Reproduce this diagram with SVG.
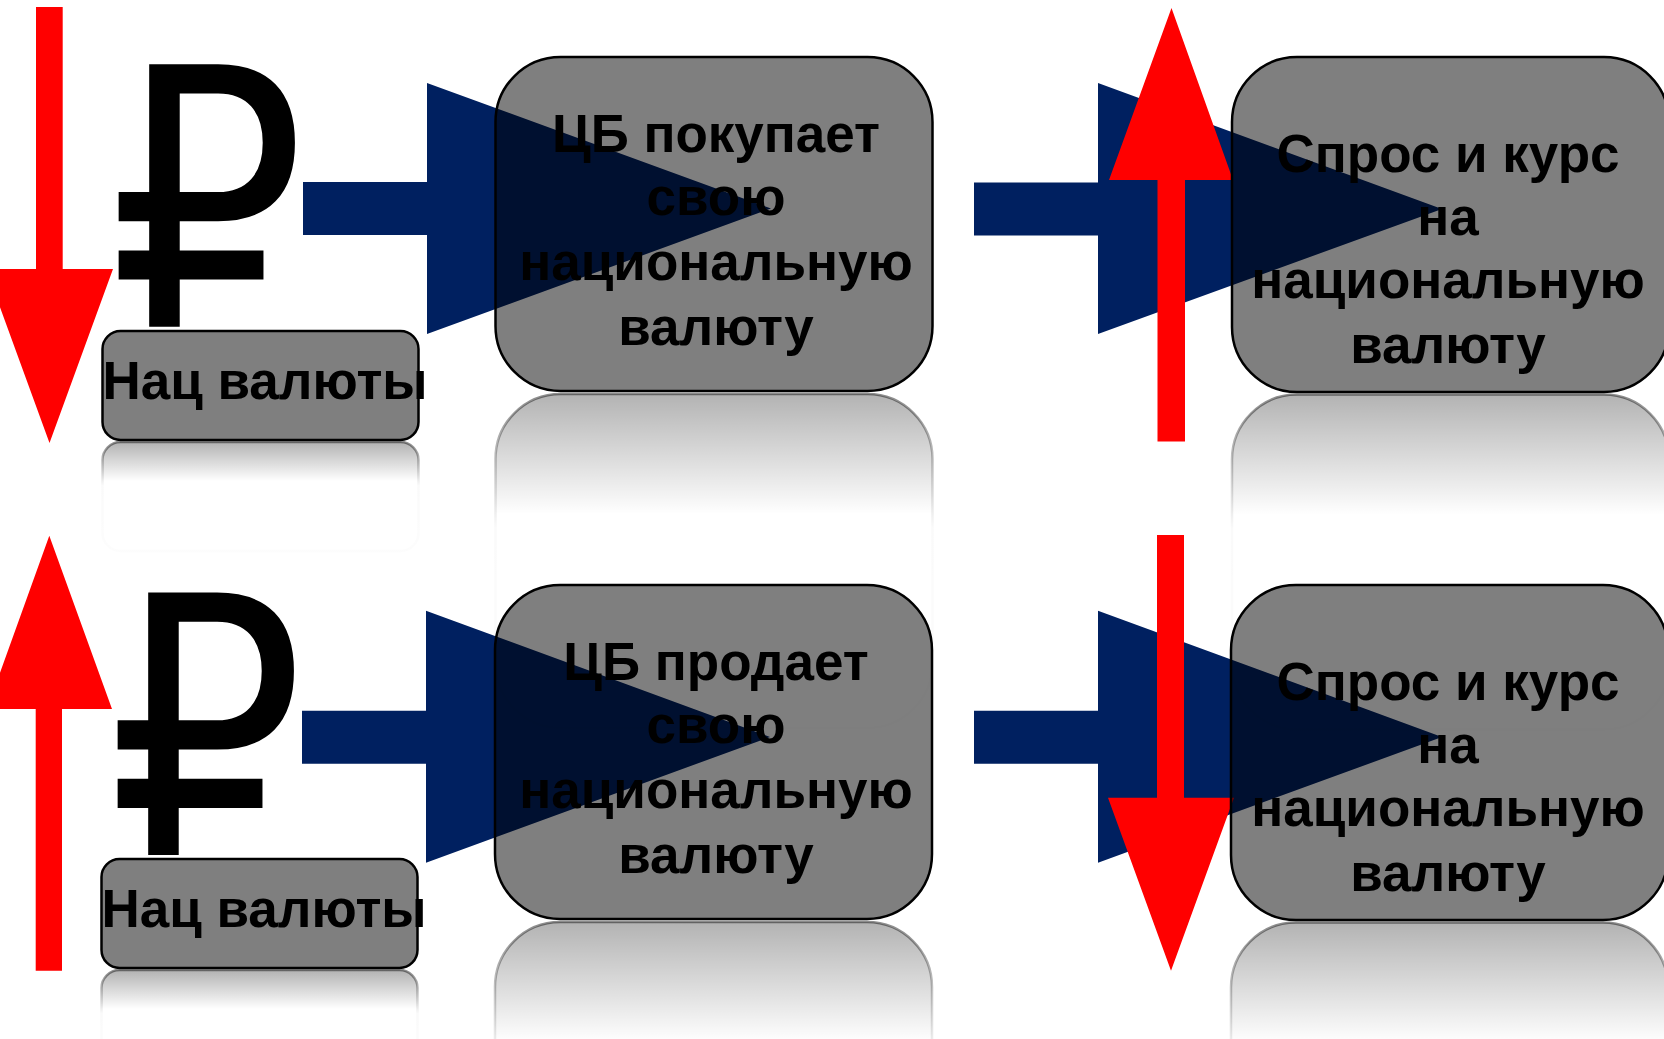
<svg xmlns="http://www.w3.org/2000/svg" width="1664" height="1039" viewBox="0 0 1664 1039">
<style>
.box{fill:#000;fill-opacity:0.5;stroke:#000;stroke-width:2.5}
.refl{fill:url(#rfFill);stroke:url(#rfStroke);stroke-width:2.5}
.lbl{font-family:"Liberation Sans",Arial,sans-serif;font-weight:bold;font-size:53px;fill:#000;text-anchor:middle}
.rub{font-family:"DejaVu Sans","Noto Sans",sans-serif;font-size:360px;fill:#000;text-anchor:middle}
.blue{fill:#002060}
.red{fill:#ff0000}
</style>
<defs>
<linearGradient id="rfFill" x1="0" y1="0" x2="0" y2="1">
<stop offset="0" stop-color="#000" stop-opacity="0.3"/>
<stop offset="0.36" stop-color="#000" stop-opacity="0"/>
<stop offset="1" stop-color="#000" stop-opacity="0"/>
</linearGradient>
<linearGradient id="rfStroke" x1="0" y1="0" x2="0" y2="1">
<stop offset="0" stop-color="#000" stop-opacity="0.45"/>
<stop offset="0.4" stop-color="#000" stop-opacity="0.02"/>
<stop offset="1" stop-color="#000" stop-opacity="0.01"/>
</linearGradient>
</defs>
<rect width="1664" height="1039" fill="#fff"/>

<g id="connectors">
<polygon class="blue" points="303,182 427,182 427,83 771,208.5 427,334 427,235 303,235"/>
<polygon class="blue" points="974,182.5 1098,182.5 1098,83 1442,209 1098,334 1098,235.5 974,235.5"/>
<polygon class="blue" points="302,710.7 426,710.7 426,610.7 770,737 426,862.7 426,763.7 302,763.7"/>
<polygon class="blue" points="974,710.7 1098,710.7 1098,610.7 1442,737 1098,862.7 1098,763.7 974,763.7"/>
</g>

<g id="indicators">
<polygon id="red-down-1" class="red" points="36,7 62.7,7 62.7,269 113,269 49.5,443 -14,269 36,269"/>
<polygon id="red-up-1" class="red" points="1171.5,8 1233,180 1185,180 1185,441.5 1157.5,441.5 1157.5,180 1109,180"/>
<polygon id="red-up-2" class="red" points="49.3,535.7 112,709 62,709 62,970.7 35.7,970.7 35.7,709 -13,709"/>
<polygon id="red-down-2" class="red" points="1157,535 1184,535 1184,797.7 1234,797.7 1171,970.7 1108,797.7 1157,797.7"/>
</g>

<g id="ruble-1"><text class="rub" transform="translate(207,326.7) scale(0.86,1)" x="0" y="0">₽</text></g>
<g id="ruble-2"><text class="rub" transform="translate(206,855) scale(0.86,1)" x="0" y="0">₽</text></g>

<g id="node-nat-1">
<rect class="refl" x="102.5" y="442" width="316" height="109" rx="18"/>
<rect class="box" x="102.5" y="331" width="316" height="109" rx="18"/>
<text class="lbl" x="265" y="399">Нац валюты</text>
</g>
<g id="node-nat-2">
<rect class="refl" x="101.5" y="970" width="316" height="109" rx="18"/>
<rect class="box" x="101.5" y="859" width="316" height="109" rx="18"/>
<text class="lbl" x="264" y="927.3">Нац валюты</text>
</g>

<g id="node-cb-buy">
<rect class="refl" x="495.5" y="394" width="437" height="334" rx="65"/>
<rect class="box" x="495.5" y="57" width="437" height="334" rx="65"/>
<text class="lbl" x="716" y="151.7">ЦБ покупает</text>
<text class="lbl" x="716" y="215">свою</text>
<text class="lbl" x="716" y="280">национальную</text>
<text class="lbl" x="716" y="345">валюту</text>
</g>
<g id="node-cb-sell">
<rect class="refl" x="495" y="922" width="437" height="334" rx="65"/>
<rect class="box" x="495" y="585" width="437" height="334" rx="65"/>
<text class="lbl" x="716" y="679.7">ЦБ продает</text>
<text class="lbl" x="716" y="743">свою</text>
<text class="lbl" x="716" y="808">национальную</text>
<text class="lbl" x="716" y="873">валюту</text>
</g>

<g id="node-demand-1">
<rect class="refl" x="1232" y="394.5" width="437" height="335" rx="65"/>
<rect class="box" x="1232" y="57" width="437" height="335" rx="65"/>
<text class="lbl" x="1448" y="171.7">Спрос и курс</text>
<text class="lbl" x="1448" y="235">на</text>
<text class="lbl" x="1448" y="298">национальную</text>
<text class="lbl" x="1448" y="363">валюту</text>
</g>
<g id="node-demand-2">
<rect class="refl" x="1231" y="922.5" width="437" height="335" rx="65"/>
<rect class="box" x="1231" y="585" width="437" height="335" rx="65"/>
<text class="lbl" x="1448" y="699.7">Спрос и курс</text>
<text class="lbl" x="1448" y="763">на</text>
<text class="lbl" x="1448" y="826">национальную</text>
<text class="lbl" x="1448" y="891">валюту</text>
</g>
</svg>
